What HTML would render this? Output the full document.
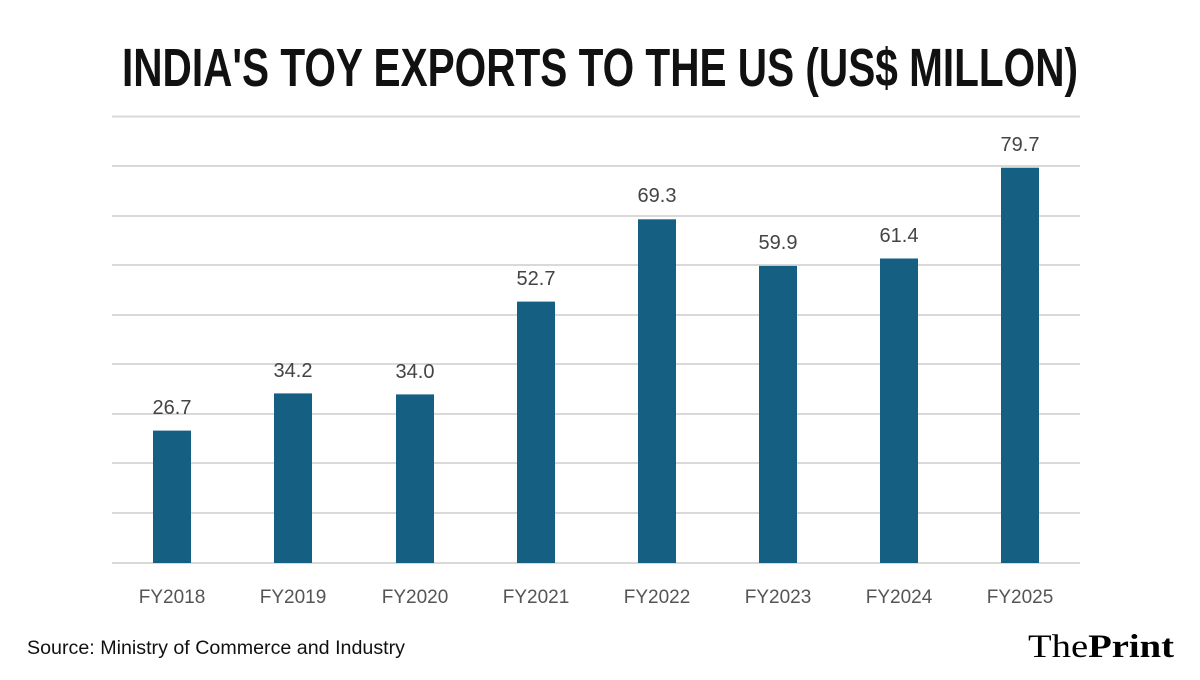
<!DOCTYPE html>
<html><head><style>html,body{margin:0;padding:0;background:#fff}</style></head>
<body>
<svg width="1200" height="675" xmlns="http://www.w3.org/2000/svg">
<rect width="1200" height="675" fill="#fff"/>
<text x="600" y="86" text-anchor="middle" font-family="Liberation Sans Narrow, Liberation Sans, sans-serif" font-size="54" font-weight="bold" fill="#111" textLength="956" lengthAdjust="spacingAndGlyphs">INDIA'S TOY EXPORTS TO THE US (US$ MILLON)</text>
<g stroke="#d9d9d9" stroke-width="2">
<line x1="112" x2="1080" y1="116.5" y2="116.5"/>
<line x1="112" x2="1080" y1="166" y2="166"/>
<line x1="112" x2="1080" y1="216" y2="216"/>
<line x1="112" x2="1080" y1="265" y2="265"/>
<line x1="112" x2="1080" y1="315" y2="315"/>
<line x1="112" x2="1080" y1="364" y2="364"/>
<line x1="112" x2="1080" y1="414" y2="414"/>
<line x1="112" x2="1080" y1="463" y2="463"/>
<line x1="112" x2="1080" y1="513" y2="513"/>
<line x1="112" x2="1080" y1="563" y2="563"/>
</g>
<g fill="#155f82">
<rect x="153" y="430.6" width="38" height="132.4"/>
<rect x="274" y="393.4" width="38" height="169.6"/>
<rect x="396" y="394.4" width="38" height="168.6"/>
<rect x="517" y="301.6" width="38" height="261.4"/>
<rect x="638" y="219.3" width="38" height="343.7"/>
<rect x="759" y="265.9" width="38" height="297.1"/>
<rect x="880" y="258.5" width="38" height="304.5"/>
<rect x="1001" y="167.7" width="38" height="395.3"/>
</g>
<g font-family="Liberation Sans, sans-serif" font-size="20" fill="#444" text-anchor="middle">
<text x="172" y="414">26.7</text>
<text x="293" y="377">34.2</text>
<text x="415" y="378">34.0</text>
<text x="536" y="285">52.7</text>
<text x="657" y="202">69.3</text>
<text x="778" y="249">59.9</text>
<text x="899" y="242">61.4</text>
<text x="1020" y="151">79.7</text>
</g>
<g font-family="Liberation Sans, sans-serif" font-size="19" fill="#555" text-anchor="middle">
<text x="172" y="603">FY2018</text>
<text x="293" y="603">FY2019</text>
<text x="415" y="603">FY2020</text>
<text x="536" y="603">FY2021</text>
<text x="657" y="603">FY2022</text>
<text x="778" y="603">FY2023</text>
<text x="899" y="603">FY2024</text>
<text x="1020" y="603">FY2025</text>
</g>
<text x="27" y="654" font-family="Liberation Sans, sans-serif" font-size="19" fill="#111" textLength="378" lengthAdjust="spacingAndGlyphs">Source: Ministry of Commerce and Industry</text>
<text x="1028" y="657" font-family="Liberation Serif, serif" font-size="33" fill="#000" textLength="146" lengthAdjust="spacingAndGlyphs">The<tspan font-weight="bold">Print</tspan></text>
</svg>
</body></html>
